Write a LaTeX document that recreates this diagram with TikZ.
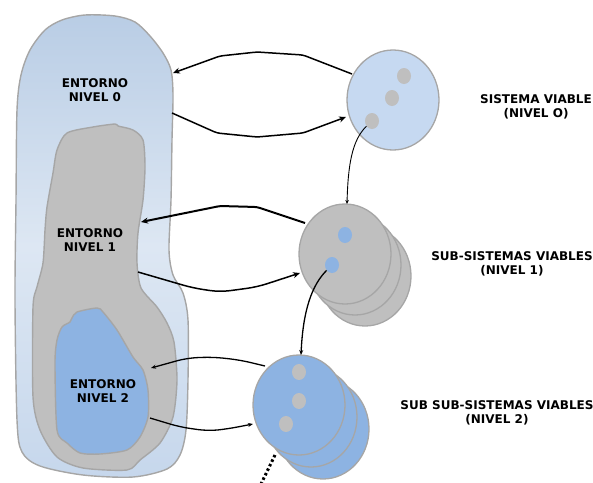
\documentclass[tikz,border=0pt]{standalone}
\usepackage{fontspec}
\setmainfont{DejaVu Sans}[BoldFont={DejaVu Sans Bold}]
\usetikzlibrary{arrows.meta,shapes.geometric}
\definecolor{edgegray}{HTML}{A6A6A6}
\definecolor{grayfill}{HTML}{BFBFBF}
\definecolor{bluefill}{HTML}{8DB3E2}
\definecolor{paleblue}{HTML}{C6D9F1}
\definecolor{envtop}{HTML}{B9CDE5}
\definecolor{envmid}{HTML}{DDE7F3}
\definecolor{envbot}{HTML}{C6D7EC}
\tikzset{
  lbl/.style={font=\fontsize{12}{14}\selectfont\bfseries, align=center, inner sep=0pt},
  disc/.style={ellipse, draw=edgegray, line width=1.3pt, minimum width=92pt, minimum height=100pt, inner sep=0pt},
  dot/.style={ellipse, minimum width=14pt, minimum height=16pt, inner sep=0pt},
  bigarrow/.style={line width=1.5pt, rounded corners=3pt, -{Stealth[length=7pt,width=6pt]}},
  thinarrow/.style={line width=1pt, -{Stealth[length=5pt,width=4pt]}},
  blob/.style={draw=edgegray, line width=1.4pt}
}
\begin{document}
\begin{tikzpicture}[x=1pt,y=-1pt]
\useasboundingbox (0,0) rectangle (593,482);
% environment blobs
\shade[blob, top color=envtop, bottom color=envbot, middle color=envmid]
  plot[smooth cycle, tension=0.5] coordinates {(85,15) (115,16) (135,22) (150,36) (163,53) (171,70) (173,95) (172,140) (171,200) (169,250) (173,275) (183,293) (188,320) (188,380) (186,430) (180,455) (167,469) (133,477) (83,475) (40,466) (22,452) (17,420) (15,300) (16,200) (17,110) (21,75) (30,50) (45,30) (62,20)};
\draw[blob, fill=grayfill]
  plot[smooth cycle, tension=0.45] coordinates {(67,133) (93,127) (115,124) (118,126) (133,130) (143,140) (145,167) (143,200) (138,233) (137,263) (141,288) (157,307) (167,323) (174,342) (177,380) (173,417) (160,443) (140,460) (127,470) (83,468) (57,457) (40,430) (33,397) (33,307) (37,287) (43,263) (45,230) (47,207) (53,173) (57,150)};
\draw[blob, fill=bluefill]
  plot[smooth cycle, tension=0.45] coordinates {(97,308) (77,312) (72,318) (70,322) (62,327) (57,340) (55,363) (57,430) (67,443) (80,453) (100,454) (127,450) (140,437) (148,417) (148,390) (143,370) (133,357) (117,330) (103,312)};
\node[lbl] (e0) at (95,90) {ENTORNO\\ NIVEL 0};
\node[lbl] (e1) at (90,240) {ENTORNO\\ NIVEL 1};
\node[lbl] (e2) at (103,391) {ENTORNO\\ NIVEL 2};
% level 0 system
\node[disc, fill=paleblue] (s0) at (393,100) {};
\node[dot, fill=grayfill] (d01) at (404,76) {};
\node[dot, fill=grayfill] (d02) at (392,98) {};
\node[dot, fill=grayfill] (d03) at (372,121) {};
% level 1 systems
\node[disc, fill=grayfill] (s1c) at (365,276) {};
\node[disc, fill=grayfill] (s1b) at (355,265) {};
\node[disc, fill=grayfill] (s1) at (345,254) {};
\node[dot, fill=bluefill] (d11) at (345,235) {};
\node[dot, fill=bluefill] (d12) at (332,265) {};
% level 2 systems
\node[disc, fill=bluefill] (s2c) at (323,429) {};
\node[disc, fill=bluefill] (s2b) at (311,417) {};
\node[disc, fill=bluefill] (s2) at (299,405) {};
\node[dot, fill=grayfill] (d21) at (299,372) {};
\node[dot, fill=grayfill] (d22) at (299,401) {};
\node[dot, fill=grayfill] (d23) at (286,424) {};
% labels
\node[lbl] (l0) at (536,107) {SISTEMA VIABLE\\(NIVEL O)};
\node[lbl] (l1) at (512,264) {SUB-SISTEMAS VIABLES\\(NIVEL 1)};
\node[lbl] (l2) at (497,413) {SUB SUB-SISTEMAS VIABLES\\(NIVEL 2)};
% connector endpoints
\coordinate (a1s) at (352,74);
\coordinate (a1e) at (173,73);
\coordinate (a2s) at (172,113);
\coordinate (a2e) at (346,117);
\coordinate (a3e) at (347,204);
\coordinate (a4s) at (305,223);
\coordinate (a4e) at (141,222);
\coordinate (a5s) at (138,272);
\coordinate (a5e) at (300,273);
\coordinate (a6e) at (301,355);
\coordinate (a7s) at (265,366);
\coordinate (a7e) at (151,368);
\coordinate (a8s) at (150,418);
\coordinate (a8e) at (253,424);
\coordinate (dotA) at (275,455);
\coordinate (dotB) at (261,484);
% connectors
\draw[bigarrow] (a1s) -- (303,55) -- (257,52) -- (220,56) -- (a1e);
\draw[bigarrow] (a2s) -- (217,133) -- (257,137) -- (303,133) -- (a2e);
\draw[line width=0.9pt, -{Stealth[length=4pt,width=3.5pt]}] (d03) .. controls (352,140) and (348,165) .. (a3e);
\draw[bigarrow, line width=2pt] (a4s) -- (257,207) -- (220,206) -- (a4e);
\draw[bigarrow, rounded corners=10pt] (a5s) -- (193,288) -- (220,292) -- (257,287) -- (a5e);
\draw[thinarrow, line width=1.3pt] (d12) .. controls (312,285) and (303,310) .. (a6e);
\draw[thinarrow, line width=1.3pt, rounded corners=10pt] (a7s) -- (240,360) -- (213,357) -- (187,358) -- (a7e);
\draw[thinarrow, line width=1.3pt, rounded corners=10pt] (a8s) -- (180,427) -- (208,431) -- (227,429) -- (a8e);
\draw[line width=3pt, dash pattern=on 2.5pt off 2.5pt] (dotA) -- (dotB);
\end{tikzpicture}
\end{document}
